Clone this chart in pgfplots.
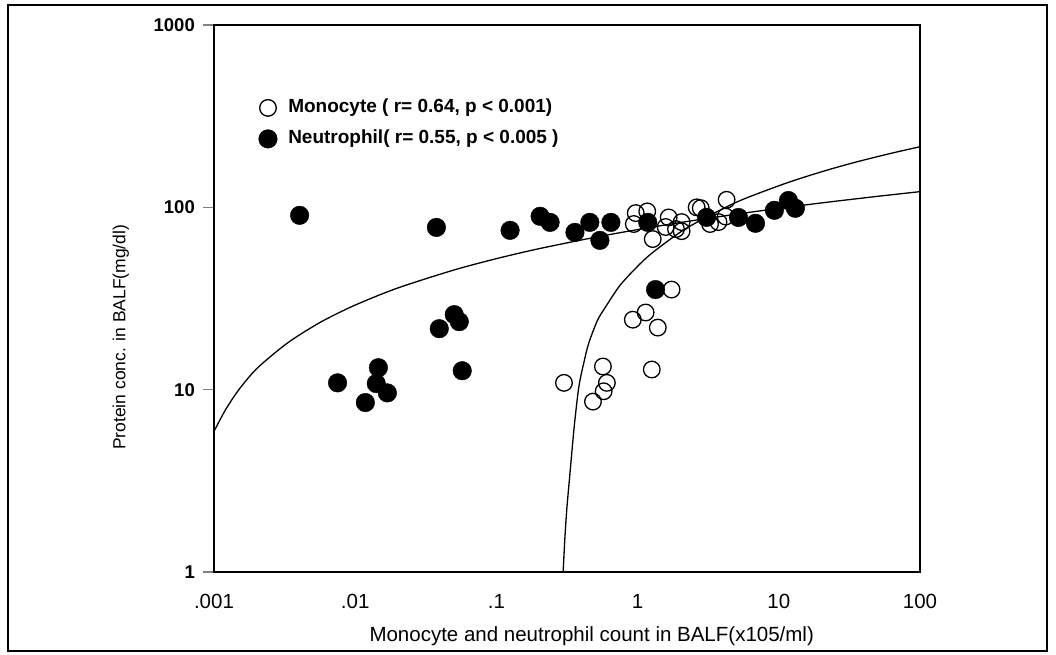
\documentclass[border=0pt]{standalone}
\usepackage{pgfplots}
\pgfplotsset{compat=1.18}
\usepackage{fontspec}
\setmainfont{Liberation Sans}
\begin{document}
\fontsize{18}{21}\selectfont
\begin{tikzpicture}
\begin{axis}[
  scale only axis,
  width=706pt, height=547pt,
  xmode=log, ymode=log,
  xmin=0.001, xmax=100, ymin=1, ymax=1000,
  xtick={0.001,0.01,0.1,1,10,100},
  xticklabels={.001,.01,.1,1,10,100},
  ytick={1,10,100,1000},
  yticklabels={\textbf{1},\textbf{10},\textbf{100},\textbf{1000}},
  xminorticks=false, yminorticks=false,
  /pgf/number format/assume math mode=true,
  axis line style={line width=1.4pt},
  xtick style={draw=none},
  ytick pos=left,
  tick align=outside,
  major tick length=11pt,
  ytick style={line width=1.3pt},
  xticklabel style={font=\fontsize{20.5}{23}\selectfont, anchor=north, yshift=-5pt},
  yticklabel style={font=\fontsize{18.5}{21}\selectfont, xshift=-2pt},
  xlabel={Monocyte and neutrophil count in BALF(x105/ml)},
  ylabel={Protein conc. in BALF(mg/dl)},
  xlabel style={font=\fontsize{20.5}{23}\selectfont, at={(axis description cs:0.535,-0.117)}, anchor=center},
  ylabel style={font=\fontsize{17.5}{21}\selectfont, at={(axis description cs:-0.132,0.429)}, anchor=center},
  legend style={draw=none, fill=none, inner sep=0pt, at={(axis description cs:0.063,0.868)}, anchor=north west,
    font=\bfseries\fontsize{19}{21}\selectfont,
    nodes={inner sep=2pt, text height=13pt, text depth=4pt}, row sep=10pt,
    /tikz/every odd column/.append style={column sep=9pt}},
  legend cell align=left,
  clip=false,
]
\addplot[only marks, mark=o, mark size=8.3pt, mark options={line width=1.3pt, draw=black, fill=none}] coordinates {
(1.74,35.4) (0.925,24.2) (1.14,26.5) (1.39,21.9) (1.26,12.9)
(0.301,10.9) (0.568,13.4) (0.606,10.9) (0.575,9.8) (0.483,8.6)
(0.94,81) (0.97,93) (1.17,95) (1.28,67) (1.58,78) (1.66,88) (1.87,76)
(2.05,83) (2.05,74) (2.62,100) (2.8,99) (3.26,81) (4.27,110) (4.2,89) (3.74,83)
};
\addlegendentry{Monocyte ( r= 0.64, p < 0.001)}
\addplot[only marks, mark=*, mark size=9.3pt, mark options={draw=black, fill=black}] coordinates {
(0.00404,90.4) (0.0376,77.6) (0.125,74.8) (0.204,89.3) (0.240,82.7)
(0.360,72.9) (0.459,82.7) (0.541,65.9) (0.647,82.7) (1.18,82.7)
(3.08,88.1) (5.18,88) (6.84,81.7) (9.31,96.3) (11.7,109) (13.1,98.8)
(0.0075,10.9) (0.0146,13.2) (0.0141,10.8) (0.0169,9.6) (0.0118,8.5)
(0.0394,21.6) (0.0503,25.8) (0.0546,23.6) (0.0573,12.7) (1.34,35.4)
};
\addlegendentry{Neutrophil( r= 0.55, p < 0.005 )}
\addplot[black, line width=1.3pt, smooth, forget plot] coordinates {
(0.001,5.9) (0.0012,7.7) (0.0015,10.0) (0.002,13.0) (0.003,17.0) (0.004,19.9)
(0.006,24.0) (0.01,29.1) (0.02,36.1) (0.05,45.3) (0.1,52.3) (0.2,59.3)
(0.5,68.5) (1,75.5) (2,82.5) (5,91.7) (10,98.7) (20,105.7) (50,114.9) (100,121.9)
};
\addplot[black, line width=1.3pt, smooth, forget plot] coordinates {
(0.297,1) (0.305,1.5) (0.315,2.2) (0.33,3.3) (0.356,6.3) (0.384,10.4) (0.42,14.5)
(0.452,18.1) (0.52,24) (0.596,28.6) (0.75,37.3) (0.987,47) (1.26,56) (2,73)
(3,87.5) (5.19,108) (10,131.3) (15.4,147) (23.5,162.4) (34.8,176.7) (60,196.4) (100,215)
};
\end{axis}
\draw[line width=1.2pt] (-206pt,-79pt) rectangle (833pt,567pt);
\pgfresetboundingbox
\path (-214pt,-82pt) rectangle (842pt,572pt);
\end{tikzpicture}
\end{document}
